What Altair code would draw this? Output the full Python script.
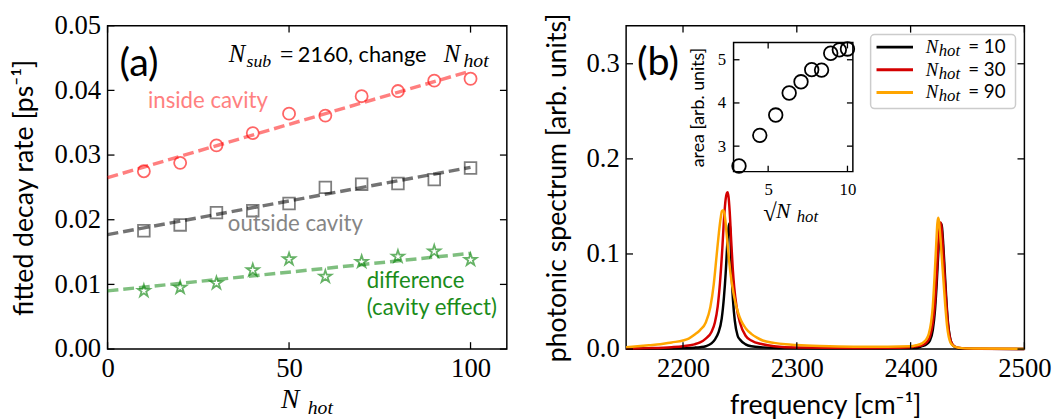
import altair as alt
import pandas as pd

# ---------------- panel (a): fitted decay rates ----------------
n_hot = [10, 20, 30, 40, 50, 60, 70, 80, 90, 100]
rate_inside = [0.0275, 0.0288, 0.0315, 0.0334, 0.0364, 0.0361, 0.0391, 0.0399, 0.0415, 0.0418]
rate_outside = [0.0183, 0.0192, 0.0211, 0.0214, 0.0225, 0.0250, 0.0255, 0.0256, 0.0262, 0.0280]
rate_diff = [0.0090, 0.0095, 0.0102, 0.0122, 0.0139, 0.0112, 0.0135, 0.0143, 0.0151, 0.0138]
fit_n = [0, 100]
fit_inside = [0.0265, 0.0430]
fit_outside = [0.0177, 0.0281]
fit_diff = [0.0090, 0.0148]
a_x_ticks = [0, 50, 100]
a_y_ticks = [0.0, 0.01, 0.02, 0.03, 0.04, 0.05]
a_x_domain = [0, 110]
a_y_domain = [0, 0.05]

# ---------------- panel (b): photonic spectra ----------------
f_n10 = [2150, 2180, 2200, 2210, 2215, 2220, 2225, 2228, 2231, 2234, 2236, 2237.5, 2239, 2240, 2240.7,
         2241.4, 2242.2, 2243, 2244, 2245.5, 2248, 2250, 2255, 2260, 2270, 2290, 2320, 2360, 2390, 2405,
         2410, 2414, 2417, 2419.5, 2421.5, 2423, 2424.5, 2425.8, 2426.8, 2427.6, 2428.7, 2430, 2431.5, 2433,
         2434.5, 2436, 2438, 2441, 2446, 2470, 2500]
s_n10 = [0.0003, 0.0006, 0.001, 0.0015, 0.002, 0.003, 0.006, 0.010, 0.017, 0.032, 0.055, 0.080, 0.112, 0.127,
         0.132, 0.127, 0.100, 0.072, 0.050, 0.030, 0.014, 0.010, 0.005, 0.003, 0.0018, 0.001, 0.0008, 0.0008,
         0.001, 0.001, 0.003, 0.005, 0.009, 0.02, 0.042, 0.07, 0.105, 0.125, 0.132, 0.128, 0.11, 0.082, 0.05,
         0.026, 0.013, 0.006, 0.003, 0.0012, 0.0005, 0.0002, 0.0001]
f_n30 = [2150, 2170, 2190, 2200, 2210, 2215, 2220, 2225, 2228, 2230.5, 2232.5, 2234.5, 2236.2, 2237.5, 2238.5,
         2239.2, 2240, 2241, 2242.3, 2243.7, 2245, 2247, 2250, 2255, 2260, 2270, 2280, 2300, 2350, 2390,
         2400, 2405, 2410, 2414, 2417, 2419.5, 2421.5, 2423, 2424.5, 2425.5, 2426.3, 2427.2, 2428.3, 2429.5,
         2431, 2432.5, 2434, 2435.5, 2437.5, 2440, 2445, 2460, 2500]
s_n30 = [0.0005, 0.001, 0.002, 0.003, 0.005, 0.007, 0.011, 0.018, 0.028, 0.045, 0.070, 0.105, 0.140, 0.158,
         0.164, 0.165, 0.160, 0.145, 0.115, 0.085, 0.065, 0.045, 0.028, 0.014, 0.009, 0.005, 0.003, 0.0016,
         0.0012, 0.0015, 0.002, 0.003, 0.004, 0.007, 0.013, 0.027, 0.05, 0.08, 0.113, 0.128, 0.133, 0.128,
         0.11, 0.085, 0.055, 0.03, 0.015, 0.008, 0.004, 0.002, 0.001, 0.0004, 0.0001]
f_n90 = [2150, 2160, 2170, 2180, 2190, 2200, 2205, 2210, 2215, 2220, 2224, 2227, 2229.5, 2231.5, 2233,
         2234.2, 2235.2, 2236.3, 2237.5, 2239, 2240.5, 2242, 2244, 2246, 2248, 2251, 2255, 2260, 2265, 2270,
         2280, 2290, 2300, 2320, 2350, 2380, 2400, 2405, 2410, 2413, 2416, 2418, 2419.5, 2421, 2422.5,
         2423.5, 2424.2, 2425, 2426, 2427.5, 2429, 2430.5, 2432, 2433.5, 2435, 2437, 2440, 2445, 2460, 2500]
s_n90 = [0.002, 0.003, 0.004, 0.005, 0.007, 0.009, 0.011, 0.015, 0.020, 0.028, 0.044, 0.068, 0.098, 0.122,
         0.137, 0.145, 0.146, 0.143, 0.132, 0.112, 0.093, 0.077, 0.061, 0.049, 0.040, 0.030, 0.022, 0.016,
         0.012, 0.009, 0.0065, 0.005, 0.0042, 0.0032, 0.0025, 0.0025, 0.003, 0.004, 0.006, 0.009, 0.016,
         0.028, 0.045, 0.075, 0.11, 0.132, 0.138, 0.134, 0.12, 0.095, 0.07, 0.045, 0.025, 0.013, 0.007,
         0.004, 0.002, 0.001, 0.0005, 0.0002]
series_names = ["10", "30", "90"]
series_colors = ["#000000", "#d40000", "#ffa500"]
b_x_ticks = [2200, 2300, 2400, 2500]
b_y_ticks = [0.0, 0.1, 0.2, 0.3]
b_x_domain = [2150, 2500]
b_y_domain = [0, 0.34]

# ---------------- inset: integrated area ----------------
sqrt_n_hot = [3.162, 4.472, 5.477, 6.325, 7.071, 7.746, 8.367, 8.944, 9.487, 10.0]
area = [2.54, 3.25, 3.72, 4.23, 4.49, 4.77, 4.76, 5.15, 5.23, 5.25]
i_x_ticks = [5, 10]
i_y_ticks = [3, 4, 5]
i_x_domain = [2.82, 10.34]
i_y_domain = [2.41, 5.40]

# ---------------- styling ----------------
SERIF = "Liberation Serif"
SANS = "Lato"
STAR = ("M0,-1L0.2245,-0.309L0.951,-0.309L0.363,0.118L0.588,0.809L0,0.382"
        "L-0.588,0.809L-0.363,0.118L-0.951,-0.309L-0.2245,-0.309Z")
WA, HA = 405, 328
WB, HB = 404, 328
TICK = 7
IL, IR, IT, IB = 109, 230, 17, 148      # inset frame inside panel (b), pixels
ONE = pd.DataFrame({"t": [""]})


def text_mark(txt, x, y, font=SANS, size=20, color="#000000", style="normal",
              align="left", baseline="middle"):
    return alt.Chart(pd.DataFrame({"t": [txt]})).mark_text(
        font=font, fontSize=size, color=color, fontStyle=style, align=align, baseline=baseline).encode(
        text="t:N", x=alt.value(x), y=alt.value(y))


def tick_layers(xvals, yvals, sx, sy, axx, axy, left, right, top, bottom, length):
    dx = pd.DataFrame({"tv": xvals})
    dy = pd.DataFrame({"tv": yvals})
    rule = dict(color="#000000", strokeWidth=1.3)
    return [
        alt.Chart(dx).mark_rule(**rule).encode(
            x=alt.X("tv:Q", scale=sx, axis=axx), y=alt.value(bottom), y2=alt.value(bottom - length)),
        alt.Chart(dx).mark_rule(**rule).encode(
            x=alt.X("tv:Q", scale=sx, axis=axx), y=alt.value(top), y2=alt.value(top + length)),
        alt.Chart(dy).mark_rule(**rule).encode(
            y=alt.Y("tv:Q", scale=sy, axis=axy), x=alt.value(left), x2=alt.value(left + length)),
        alt.Chart(dy).mark_rule(**rule).encode(
            y=alt.Y("tv:Q", scale=sy, axis=axy), x=alt.value(right), x2=alt.value(right - length)),
    ]


# ---------------- panel (a) ----------------
sx_a = alt.Scale(domain=a_x_domain, nice=False, zero=False)
sy_a = alt.Scale(domain=a_y_domain, nice=False, zero=False)
ax_x_a = alt.Axis(values=a_x_ticks, format="d", title=None, labelFont=SERIF, labelFontSize=27, labelPadding=7,
                  labelFlush=False, labelOverlap=False, ticks=False, domain=False, grid=False)
ax_y_a = alt.Axis(values=a_y_ticks, format=".2f", title="fitted decay rate [ps⁻¹]", titleFont=SANS,
                  titleFontSize=27, titleFontWeight="normal", titlePadding=16,
                  labelFont=SERIF, labelFontSize=27, labelPadding=7, labelFlush=False, labelOverlap=False,
                  ticks=False, domain=False, grid=False)

pts = pd.DataFrame({"n": n_hot, "inside": rate_inside, "outside": rate_outside, "diff": rate_diff})
fit = pd.DataFrame({"n": fit_n, "inside": fit_inside, "outside": fit_outside, "diff": fit_diff})


def marker(field, shape, size, color, op):
    return alt.Chart(pts).mark_point(shape=shape, size=size, filled=False, strokeWidth=1.8,
                                     color=color, opacity=op).encode(
        x=alt.X("n:Q", scale=sx_a, axis=ax_x_a), y=alt.Y(f"{field}:Q", scale=sy_a, axis=ax_y_a))


def fit_line(field, color, op):
    return alt.Chart(fit).mark_line(strokeDash=[11, 5], strokeWidth=3.5, color=color, opacity=op).encode(
        x=alt.X("n:Q", scale=sx_a, axis=ax_x_a), y=alt.Y(f"{field}:Q", scale=sy_a, axis=ax_y_a))


panel_a = alt.layer(
    marker("inside", "circle", 150, "#ff0000", 0.6),
    marker("outside", "square", 140, "#000000", 0.5),
    marker("diff", STAR, 170, "#008000", 0.6),
    fit_line("inside", "#ff0000", 0.5),
    fit_line("outside", "#000000", 0.55),
    fit_line("diff", "#008000", 0.5),
    *tick_layers(a_x_ticks, a_y_ticks, sx_a, sy_a, ax_x_a, ax_y_a, 0, WA, 0, HA, TICK),
    text_mark("(a)", 12, 39, size=40),
    text_mark("inside cavity", 41, 76, size=22.5, color="#ff8080"),
    text_mark("outside cavity", 122, 201, size=22.5, color="#858585"),
    text_mark("difference", 263, 259, size=22.5, color="#1a8c1a"),
    text_mark("(cavity effect)", 263, 286, size=22.5, color="#1a8c1a"),
    text_mark("N", 123, 37, font=SERIF, size=25, style="italic", baseline="alphabetic"),
    text_mark("sub", 141, 42, font=SERIF, size=18, style="italic", baseline="alphabetic"),
    text_mark("=", 175, 37, font=SERIF, size=24, baseline="alphabetic"),
    text_mark("2160, change", 193, 37, size=22, baseline="alphabetic"),
    text_mark("N", 341, 37, font=SERIF, size=25, style="italic", baseline="alphabetic"),
    text_mark("hot", 361, 42, font=SERIF, size=20, style="italic", baseline="alphabetic"),
    text_mark("N", 176, 388, font=SERIF, size=28, style="italic", baseline="alphabetic"),
    text_mark("hot", 203, 394, font=SERIF, size=20, style="italic", baseline="alphabetic"),
).properties(width=WA, height=HA)

# ---------------- panel (b) ----------------
sx_b = alt.Scale(domain=b_x_domain, nice=False, zero=False)
sy_b = alt.Scale(domain=b_y_domain, nice=False, zero=False)
ax_x_b = alt.Axis(orient="bottom", values=b_x_ticks, format="d", title="frequency [cm⁻¹]", titleFont=SANS,
                  titleFontSize=27, titleFontWeight="normal", titlePadding=11,
                  labelFont=SERIF, labelFontSize=27, labelPadding=7, labelFlush=False, labelOverlap=False,
                  ticks=False, domain=False, grid=False)
ax_y_b = alt.Axis(orient="left", values=b_y_ticks, format=".1f", title="photonic spectrum [arb. units]",
                  titleFont=SANS, titleFontSize=27, titleFontWeight="normal", titlePadding=15,
                  labelFont=SERIF, labelFontSize=27, labelPadding=7, labelFlush=False, labelOverlap=False,
                  ticks=False, domain=False, grid=False)

spec = pd.concat([
    pd.DataFrame({"f": f_n10, "s": s_n10, "N": series_names[0]}),
    pd.DataFrame({"f": f_n30, "s": s_n30, "N": series_names[1]}),
    pd.DataFrame({"f": f_n90, "s": s_n90, "N": series_names[2]}),
], ignore_index=True)

lines = alt.Chart(spec).mark_line(strokeWidth=2.5, interpolate="monotone").encode(
    x=alt.X("f:Q", scale=sx_b, axis=ax_x_b),
    y=alt.Y("s:Q", scale=sy_b, axis=ax_y_b),
    color=alt.Color("N:N", scale=alt.Scale(domain=series_names, range=series_colors), legend=None),
)

# legend box (guide decoration)
legend_parts = [
    alt.Chart(ONE).mark_rect(fill="#ffffff", stroke="#cccccc", strokeWidth=1.5, cornerRadius=4).encode(
        x=alt.value(248), x2=alt.value(395), y=alt.value(9), y2=alt.value(84))
]
for i, (name, col) in enumerate(zip(series_names, series_colors)):
    yy = 21.7 + 23 * i
    legend_parts += [
        alt.Chart(ONE).mark_rule(color=col, strokeWidth=3).encode(
            x=alt.value(254), x2=alt.value(291), y=alt.value(yy)),
        text_mark("N", 304, yy + 6, font=SERIF, size=19, style="italic", baseline="alphabetic"),
        text_mark("hot", 317, yy + 9, font=SERIF, size=17, style="italic", baseline="alphabetic"),
        text_mark("= " + name, 347, yy + 6, size=19, baseline="alphabetic"),
    ]

main_b = alt.layer(
    lines,
    *tick_layers(b_x_ticks, b_y_ticks, sx_b, sy_b, ax_x_b, ax_y_b, 0, WB, 0, HB, TICK),
    text_mark("(b)", 11, 38, size=40),
    *legend_parts,
)

sx_i = alt.Scale(domain=i_x_domain, range=[IL, IR], nice=False, zero=False)
sy_i = alt.Scale(domain=i_y_domain, range=[IB, IT], nice=False, zero=False)
ax_x_i = alt.Axis(orient="bottom", offset=-(HB - IB), values=i_x_ticks, format="d", title=None,
                  labelFont=SERIF, labelFontSize=17, labelPadding=10, labelFlush=False, labelOverlap=False,
                  ticks=False, domain=False, grid=False, zindex=1)
ax_y_i = alt.Axis(orient="left", offset=-IL, values=i_y_ticks, format="d", title="area [arb. units]",
                  titleFont=SANS, titleFontSize=18, titleFontWeight="normal", titlePadding=10,
                  labelFont=SERIF, labelFontSize=17, labelPadding=8, labelFlush=False, labelOverlap=False,
                  ticks=False, domain=False, grid=False, zindex=1)

inset_df = pd.DataFrame({"r": sqrt_n_hot, "area": area})
inset_frame = alt.Chart(ONE).mark_rect(fill="#ffffff", stroke="#000000", strokeWidth=1.5).encode(
    x=alt.value(IL), x2=alt.value(IR), y=alt.value(IT), y2=alt.value(IB))
inset_pts = alt.Chart(inset_df).mark_point(shape="circle", size=190, filled=False, color="#000000",
                                           strokeWidth=1.8, opacity=1).encode(
    x=alt.X("r:Q", scale=sx_i, axis=ax_x_i), y=alt.Y("area:Q", scale=sy_i, axis=ax_y_i))

inset = alt.layer(
    inset_frame, inset_pts,
    *tick_layers(i_x_ticks, i_y_ticks, sx_i, sy_i, ax_x_i, ax_y_i, IL, IR, IT, IB, 6),
    text_mark("√", 139, 198, font=SERIF, size=25, baseline="alphabetic"),
    text_mark("N", 152, 195, font=SERIF, size=22, style="italic", baseline="alphabetic"),
    text_mark("hot", 173, 199, font=SERIF, size=17, style="italic", baseline="alphabetic"),
)

panel_b = alt.layer(main_b, inset).resolve_scale(x="independent", y="independent").properties(
    width=WB, height=HB)

chart = alt.hconcat(panel_a, panel_b, spacing=34).properties(
    padding={"left": 2, "top": 0, "right": 0, "bottom": 0}, background="#ffffff").configure_view(
    stroke="#000000", strokeWidth=1.5).configure_axis(labelColor="#000000", titleColor="#000000",
                                                      labelFont=SERIF)

chart.save("out.html", embed_options={"renderer": "svg", "actions": False})
